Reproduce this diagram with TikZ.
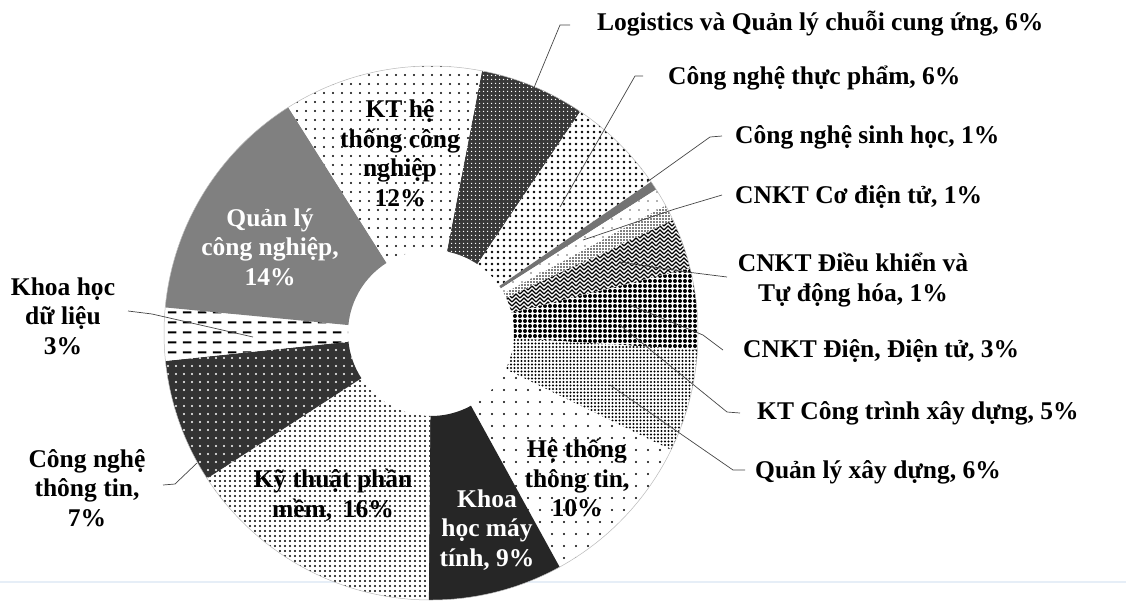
\documentclass[tikz,border=0pt]{standalone}
\usepackage{fontspec}
\setmainfont{Liberation Serif}
\usetikzlibrary{patterns.meta}
\definecolor{faintline}{RGB}{230,238,247}
\definecolor{leadc}{RGB}{70,70,70}
\pgfdeclarepattern{
  name=herring, type=uncolored,
  bottom left={\pgfpoint{-1pt}{-1pt}}, top right={\pgfpoint{9pt}{9pt}},
  tile size={\pgfpoint{8pt}{8pt}},
  code={
    \pgfsetlinewidth{1.1pt}
    \pgfpathmoveto{\pgfpoint{0pt}{0pt}}
    \pgfpathlineto{\pgfpoint{4pt}{4pt}}
    \pgfpathlineto{\pgfpoint{8pt}{0pt}}
    \pgfpathmoveto{\pgfpoint{0pt}{4pt}}
    \pgfpathlineto{\pgfpoint{4pt}{8pt}}
    \pgfpathlineto{\pgfpoint{8pt}{4pt}}
    \pgfusepath{stroke}
  }
}
\pgfdeclarepattern{
  name=hdash, type=uncolored,
  bottom left={\pgfpoint{0pt}{0pt}}, top right={\pgfpoint{15pt}{10pt}},
  tile size={\pgfpoint{15pt}{10pt}},
  code={
    \pgfsetlinewidth{2pt}
    \pgfpathmoveto{\pgfpoint{3pt}{5pt}}
    \pgfpathlineto{\pgfpoint{12pt}{5pt}}
    \pgfusepath{stroke}
  }
}
\tikzset{
  sLog/.style={fill=black!78, postaction={pattern={Dots[distance=4pt,radius=0.9pt]}, pattern color=white}},
  sCNTP/.style={fill=white, postaction={pattern={Dots[distance=6pt,radius=1.3pt]}, pattern color=black}},
  sSH/.style={fill=black!55},
  sCDT/.style={fill=white, postaction={pattern={Dots[distance=9pt,radius=0.8pt]}, pattern color=black!60}},
  sDK/.style={fill=white, postaction={pattern={Dots[distance=3pt,radius=0.9pt]}, pattern color=black}},
  sDien/.style={fill=white, postaction={pattern=herring, pattern color=black}},
  sKTCT/.style={fill=white, postaction={pattern={Dots[distance=5pt,radius=2pt]}, pattern color=black}},
  sQLXD/.style={fill=white, postaction={pattern={Dots[distance=3.5pt,radius=1.05pt]}, pattern color=black}},
  sHTTT/.style={fill=white, postaction={pattern={Dots[distance=12pt,radius=1.2pt]}, pattern color=black}},
  sKHMT/.style={fill=black!85},
  sKTPM/.style={fill=white, postaction={pattern={Dots[distance=5pt,radius=1.1pt]}, pattern color=black}},
  sCNTT/.style={fill=black!80, postaction={pattern={Dots[distance=8pt,radius=1.2pt]}, pattern color=white}},
  sKHDL/.style={fill=white, postaction={pattern=hdash, pattern color=black}},
  sQLCN/.style={fill=black!50},
  sKTHT/.style={fill=white, postaction={pattern={Dots[distance=9pt,radius=1.1pt]}, pattern color=black}},
  lbl/.style={font=\fontsize{25.5}{29.5}\selectfont\bfseries, text=black, inner sep=0pt, align=center},
  wlbl/.style={lbl, text=white},
  lead/.style={draw=leadc, line width=0.7pt}
}
\begin{document}
\begin{tikzpicture}[x=1pt, y=-1pt]
\useasboundingbox (0,0) rectangle (1126,606);
\coordinate (c) at (431,333);
\coordinate (fl1) at (0,582);
\coordinate (fl2) at (1126,582);
\draw[faintline, line width=1.5pt] (fl1) -- (fl2);
\foreach \a/\b/\st in {11/34/sLog, 34/55.5/sCNTP, 55.5/57.5/sSH, 57.5/61.5/sCDT, 61.5/65/sDK, 65/76/sDien, 76/93.6/sKTCT, 93.6/116/sQLXD, 116/151.2/sHTTT, 151.2/180.5/sKHMT, 180.5/237/sKTPM, 237/264/sCNTT, 264/275.5/sKHDL, 275.5/327.7/sQLCN, 327.7/371/sKTHT} {
  \pgfmathsetmacro\sa{\a-90}
  \pgfmathsetmacro\sb{\b-90}
  \pgfmathsetmacro\sc{\b+90}
  \path[\st] (c) ++(\sa:267) arc[start angle=\sa, end angle=\sb, radius=267] -- ++(\sc:184) arc[start angle=\sb, end angle=\sa, radius=83] -- cycle;
}
\draw[gray!55, line width=0.5pt] (c) circle[radius=267];

% inside labels
\node[lbl] (tKTHT) at (400,153) {KT hệ\\thống công\\nghiệp\\12\%};
\node[wlbl] (tQLCN) at (270,247) {Quản lý\\công nghiệp,\\14\%};
\node[lbl] (tKTPM) at (333,495) {Kỹ thuật phần\\mềm, \,16\%};
\node[wlbl] (tKHMT) at (487,530) {Khoa\\học máy\\tính, 9\%};
\node[lbl] (tHTTT) at (577,478) {Hệ thống\\thông tin,\\10\%};

% outside labels
\node[lbl, anchor=west] (lLog) at (597,24) {Logistics và Quản lý chuỗi cung ứng, 6\%};
\node[lbl, anchor=west] (lCNTP) at (668,78) {Công nghệ thực phẩm, 6\%};
\node[lbl, anchor=west] (lSH) at (735,137) {Công nghệ sinh học, 1\%};
\node[lbl, anchor=west] (lCDT) at (735,197) {CNKT Cơ điện tử, 1\%};
\node[lbl] (lDK) at (853,280) {CNKT Điều khiển và\\Tự động hóa, 1\%};
\node[lbl, anchor=west] (lDien) at (743,351) {CNKT Điện, Điện tử, 3\%};
\node[lbl, anchor=west] (lKTCT) at (757,413) {KT Công trình xây dựng, 5\%};
\node[lbl, anchor=west] (lQLXD) at (755,472) {Quản lý xây dựng, 6\%};
\node[lbl] (lKHDL) at (63,316) {Khoa học\\dữ liệu\\3\%};
\node[lbl] (lCNTT) at (87,488) {Công nghệ\\thông tin,\\7\%};

% leader lines
\coordinate (a1) at (570,25);  \coordinate (b1) at (560,25);  \coordinate (e1) at (533,90);
\coordinate (a2) at (643,76);  \coordinate (b2) at (635,76);  \coordinate (e2) at (560,207);
\coordinate (a3) at (722,136); \coordinate (b3) at (710,137); \coordinate (e3) at (647,182);
\coordinate (a4) at (722,195); \coordinate (b4) at (675,209); \coordinate (e4) at (583,240);
\coordinate (a5) at (727,277); \coordinate (b5) at (687,272); \coordinate (e5) at (620,262);
\coordinate (a6) at (723,350); \coordinate (b6) at (703,335); \coordinate (e6) at (630,305);
\coordinate (a7) at (740,413); \coordinate (b7) at (727,412); \coordinate (e7) at (620,325);
\coordinate (a8) at (745,470); \coordinate (b8) at (733,470); \coordinate (e8) at (610,385);
\coordinate (a9) at (128,311); \coordinate (b9) at (152,314); \coordinate (e9) at (253,337);
\coordinate (a10) at (163,485); \coordinate (b10) at (175,484); \coordinate (e10) at (197,463);
\foreach \i in {1,...,10} { \path[lead] (a\i) -- (b\i) -- (e\i); }
\end{tikzpicture}
\end{document}
